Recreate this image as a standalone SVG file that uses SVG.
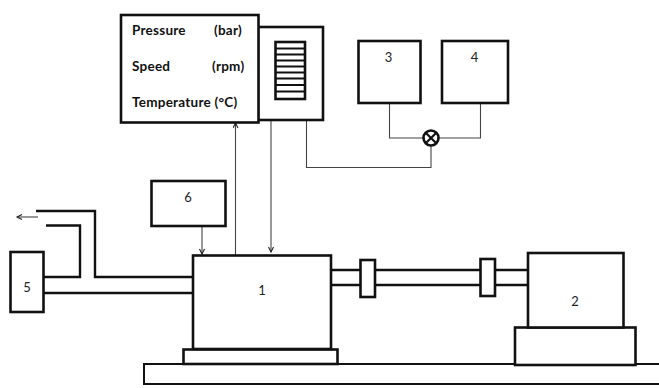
<svg xmlns="http://www.w3.org/2000/svg" width="659" height="388" viewBox="0 0 659 388">
<defs>
<marker id="a" markerWidth="8" markerHeight="8" refX="6" refY="3" orient="auto" markerUnits="userSpaceOnUse"><path d="M1 .5L6 3L1 5.500" fill="none" stroke="#222" stroke-width="1.100"/></marker>
</defs>
<style>
.b{fill:#fff;stroke:#111;stroke-width:2.600}
.t{fill:#fff;stroke:#111;stroke-width:2}
.p{fill:none;stroke:#111;stroke-width:2.400}
.c{fill:none;stroke:#444;stroke-width:1.100}
.n{font-family:"Lato","Liberation Sans",sans-serif;font-size:13px;fill:#222;text-anchor:middle}
.l{font-family:"Lato","Liberation Sans",sans-serif;font-size:13.500px;font-weight:700;fill:#111;letter-spacing:.25px}
</style>
<rect width="659" height="388" fill="#fff"/>
<g id="connectors">
<path class="p" d="M36 211H95V277H193"/>
<path class="p" d="M46 225.500H80V277H43"/>
<path class="p" d="M43 293H193"/>
<path class="p" d="M331 270H527M331 285H527"/>
<path class="c" d="M38 217H17" marker-end="url(#a)"/>
<path class="c" d="M202 226V254" marker-end="url(#a)"/>
<path class="c" d="M235.500 256V123" marker-end="url(#a)"/>
<path class="c" d="M271 121V252" marker-end="url(#a)"/>
<path class="c" d="M389.500 103V138H423M439 138H480.500V103"/>
<path class="c" d="M431 146V167.500H306.500V121"/>
</g>
<g id="node-table"><rect class="t" x="144" y="364" width="530" height="20"/></g>
<g id="node-1"><rect class="b" x="183.500" y="349.500" width="154" height="14.500"/><rect class="b" x="193" y="255.500" width="138" height="93.500"/><text class="n" x="262" y="295">1</text></g>
<g id="node-2"><rect class="b" x="515" y="327.500" width="120.500" height="37.500"/><rect class="b" x="528" y="253" width="95.500" height="74.500"/><text class="n" x="575" y="306">2</text></g>
<g id="node-coupling-1"><rect class="b" x="360.500" y="260" width="14.500" height="37"/></g>
<g id="node-coupling-2"><rect class="b" x="480.500" y="259" width="14.500" height="37"/></g>
<g id="node-3"><rect class="b" x="358.500" y="41" width="62" height="62"/><text class="n" x="388.500" y="62">3</text></g>
<g id="node-4"><rect class="b" x="442" y="41" width="66" height="62"/><text class="n" x="474.500" y="62">4</text></g>
<g id="node-5"><rect class="b" x="10.500" y="252" width="33" height="60"/><text class="n" x="27" y="292">5</text></g>
<g id="node-6"><rect class="b" x="151.500" y="181" width="74" height="45"/><text class="n" x="188" y="202">6</text></g>
<g id="node-mixer"><circle cx="431" cy="138" r="7.500" fill="#fff" stroke="#111" stroke-width="2.600"/><path d="M425.700 132.700L436.300 143.300M436.300 132.700L425.700 143.300" stroke="#111" stroke-width="2.200"/></g>
<g id="node-controller"><rect class="b" x="258" y="27" width="65" height="93"/><rect class="b" x="275.500" y="42" width="29.500" height="57" stroke-width="3"/><path d="M275 48.500H305M275 54.500H305M275 60.500H305M275 66.500H305M275 72.500H305M275 78.500H305M275 85H305M275 91.500H305" stroke="#111" stroke-width="2.200"/></g>
<g id="node-display"><rect class="b" x="121" y="15" width="137.500" height="107.500" stroke-width="3"/>
<text class="l" x="132" y="35">Pressure</text><text class="l" x="214" y="35">(bar)</text>
<text class="l" x="132" y="71">Speed</text><text class="l" x="212" y="71">(rpm)</text>
<text class="l" x="132" y="107">Temperature (°C)</text></g>
</svg>
